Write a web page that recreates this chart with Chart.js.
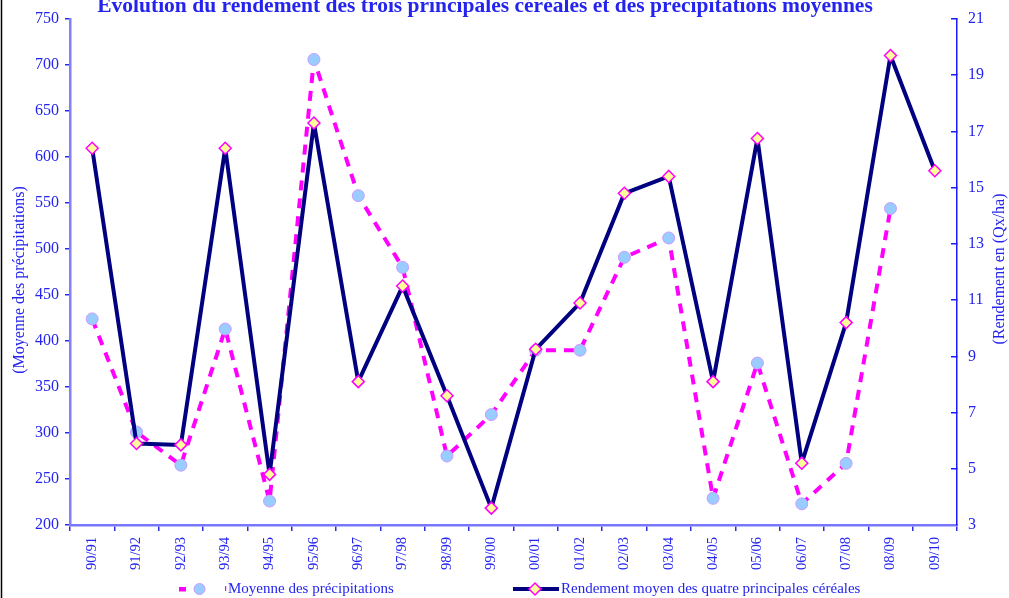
<!DOCTYPE html>
<html><head><meta charset="utf-8">
<script src="https://cdn.jsdelivr.net/npm/chart.js@4.4.1/dist/chart.umd.min.js"></script>
<style>html,body{margin:0;padding:0;background:#fff;overflow:hidden}#wrap{width:1009px;height:598px;position:relative}</style>
</head><body><div id="wrap"><canvas id="c" width="1009" height="598"></canvas></div>
<script>
const categories = ['90/91','91/92','92/93','93/94','94/95','95/96','96/97','97/98','98/99','99/00','00/01','01/02','02/03','03/04','04/05','05/06','06/07','07/08','08/09','09/10'];
const precipitations = [424,301,265,413,226,706,558,480,275,320,390,390,491,512,229,376,223,267,544,null];
const rendement = [16.4,5.9,5.85,16.4,4.8,17.3,8.1,11.5,7.6,3.6,9.25,10.9,14.8,15.4,8.1,16.75,5.2,10.2,19.7,15.6];
const leftTicks = [200,250,300,350,400,450,500,550,600,650,700,750];
const rightTicks = [3,5,7,9,11,13,15,17,19,21];
const titleText = 'Évolution du rendement des trois principales céréales et des précipitations moyennes';
const leftTitle = '(Moyenne des précipitations)';
const rightTitle = '(Rendement en (Qx/ha)';
const labelPrecip = 'Moyenne des précipitations';
const labelRend = 'Rendement moyen des quatre principales céréales';

const SERIF = "'Liberation Serif','Times New Roman',serif";
const BLUE = '#2424ee';

const decor = {
  id: 'decor',
  afterDraw(chart) {
    const ctx = chart.ctx;
    ctx.save();
    // left frame line
    ctx.strokeStyle = '#000';
    ctx.lineWidth = 1.5;
    ctx.beginPath(); ctx.moveTo(1.5, 0); ctx.lineTo(1.5, 598); ctx.stroke();
    // title
    ctx.fillStyle = BLUE;
    ctx.font = 'bold 21.5px ' + SERIF;
    ctx.textAlign = 'center';
    ctx.textBaseline = 'alphabetic';
    ctx.fillText(titleText, 485, 12);
    // axis titles
    ctx.font = '16px ' + SERIF;
    ctx.textBaseline = 'middle';
    ctx.save(); ctx.translate(20, 280); ctx.rotate(-Math.PI/2); ctx.fillText(leftTitle, 0, 0); ctx.restore();
    ctx.save(); ctx.translate(1000, 269); ctx.rotate(-Math.PI/2); ctx.fillText(rightTitle, 0, 0); ctx.restore();
    // legend
    const ly = 589;
    const dsR = chart.data.datasets[0], dsP = chart.data.datasets[1];
    ctx.font = '15px ' + SERIF;
    ctx.fillStyle = dsP.borderColor;
    ctx.fillRect(179, ly - 2, 7, 4.5);
    ctx.beginPath(); ctx.arc(199.5, ly, 5.5, 0, Math.PI*2);
    ctx.fillStyle = dsP.pointBackgroundColor; ctx.fill();
    ctx.lineWidth = 1; ctx.strokeStyle = dsP.pointBorderColor; ctx.stroke();
    ctx.fillStyle = dsP.borderColor; ctx.fillRect(225, ly - 3, 1.2, 5);
    ctx.fillStyle = BLUE; ctx.textAlign = 'left';
    ctx.fillText(labelPrecip, 228, ly);
    ctx.strokeStyle = dsR.borderColor; ctx.lineWidth = 4;
    ctx.beginPath(); ctx.moveTo(513, ly); ctx.lineTo(559, ly); ctx.stroke();
    ctx.beginPath(); ctx.moveTo(529, ly); ctx.lineTo(535, ly-6); ctx.lineTo(541, ly); ctx.lineTo(535, ly+6); ctx.closePath();
    ctx.fillStyle = dsR.pointBackgroundColor; ctx.fill();
    ctx.lineWidth = 1.5; ctx.strokeStyle = dsR.pointBorderColor; ctx.stroke();
    ctx.fillStyle = BLUE;
    ctx.fillText(labelRend, 561, ly);
    ctx.restore();
  }
};

new Chart(document.getElementById('c'), {
  type: 'line',
  data: {
    labels: categories,
    datasets: [
      {
        label: labelRend, data: rendement, yAxisID: 'y1', order: 0,
        borderColor: '#000080', borderWidth: 4, tension: 0, borderJoinStyle: 'round',
        pointStyle: 'rectRot', pointRadius: 6, pointHoverRadius: 6,
        pointBackgroundColor: '#ffff99', pointBorderColor: '#ff00ff', pointBorderWidth: 1.5
      },
      {
        label: labelPrecip, data: precipitations, yAxisID: 'y', order: 1,
        borderColor: '#ff00ff', borderWidth: 4, borderDash: [10, 8], borderCapStyle: 'butt', borderJoinStyle: 'round', tension: 0,
        pointStyle: 'circle', pointRadius: 6, pointHoverRadius: 6,
        pointBackgroundColor: '#99ccff', pointBorderColor: '#cc99ff', pointBorderWidth: 1
      }
    ]
  },
  options: {
    responsive: false, animation: false, devicePixelRatio: 1,
    layout: { padding: { top: 19, bottom: 0, left: 0, right: 0 } },
    plugins: { legend: { display: false }, title: { display: false }, tooltip: { enabled: false } },
    scales: {
      x: {
        type: 'category', offset: true,
        grid: { offset: true, drawOnChartArea: false, drawTicks: true, tickLength: 6, color: '#2a2aee', lineWidth: 1.5 },
        border: { display: true, color: '#7878ff', width: 2.5 },
        ticks: { minRotation: 90, maxRotation: 90, autoSkip: false, padding: 6, color: BLUE, font: { family: SERIF, size: 14.5 } },
        afterFit: s => { s.height = 73; s.paddingLeft = 0; s.paddingRight = 0; }
      },
      y: {
        position: 'left', min: 200, max: 750,
        afterBuildTicks: s => { s.ticks = leftTicks.map(v => ({ value: v })); },
        grid: { drawOnChartArea: false, drawTicks: true, tickLength: 5, color: '#2a2aee', lineWidth: 1.5 },
        border: { display: true, color: '#8080ff', width: 2.5 },
        ticks: { padding: 6, color: BLUE, font: { family: SERIF, size: 16 } },
        afterFit: s => { s.width = 70; s.paddingTop = 0; s.paddingBottom = 0; }
      },
      y1: {
        position: 'right', min: 3, max: 21,
        afterBuildTicks: s => { s.ticks = rightTicks.map(v => ({ value: v })); },
        grid: { drawOnChartArea: false, drawTicks: true, tickLength: -6, color: '#1a1aff', lineWidth: 1.5 },
        border: { display: true, color: '#1a1aff', width: 1.5 },
        ticks: { padding: 17, color: BLUE, font: { family: SERIF, size: 16 } },
        afterFit: s => { s.width = 52; s.paddingTop = 0; s.paddingBottom = 0; }
      }
    }
  },
  plugins: [decor]
});
</script></body></html>
